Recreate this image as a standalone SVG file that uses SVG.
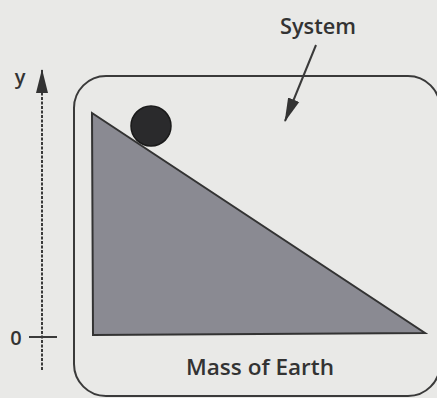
<svg xmlns="http://www.w3.org/2000/svg" width="437" height="398" viewBox="0 0 437 398">
<style>
.t{font-family:"Open Sans","Liberation Sans",sans-serif;fill:#333;font-weight:600;}
.ln{stroke:#3a3a3a;fill:none;}
</style>
<defs>
<marker id="ah2" markerWidth="24" markerHeight="14" refX="23" refY="7" orient="auto" markerUnits="userSpaceOnUse">
<path d="M0,1 L24,7 L0,13 Z" fill="#333"/>
</marker>
</defs>
<rect width="437" height="398" fill="#e9e9e7"/>
<g id="axis">
<line x1="42" y1="370" x2="42" y2="70" class="ln" stroke-width="2" stroke-dasharray="3,1.5" marker-end="url(#ah2)"/>
<line x1="29" y1="337" x2="57" y2="337" class="ln" stroke-width="2"/>
<text class="t" x="20" y="84" font-size="20" text-anchor="middle">y</text>
<text class="t" x="16" y="345" font-size="20" text-anchor="middle">0</text>
</g>
<g id="system">
<rect x="74" y="76" width="366" height="320" rx="32" class="ln" stroke-width="2"/>
</g>
<g id="incline">
<polygon points="92,113 425,333 93,335" fill="#8a8a92" stroke="#333" stroke-width="2"/>
</g>
<g id="ball">
<circle cx="151" cy="126" r="20" fill="#2a2a2c" stroke="#1a1a1a" stroke-width="1.5"/>
</g>
<g id="connectors">
<line x1="316" y1="45" x2="285" y2="121" class="ln" stroke-width="2" marker-end="url(#ah2)"/>
</g>
<g id="labels">
<text class="t" x="318" y="34" font-size="21" text-anchor="middle" textLength="76" lengthAdjust="spacingAndGlyphs">System</text>
<text class="t" x="260" y="375" font-size="21" text-anchor="middle" textLength="148" lengthAdjust="spacingAndGlyphs">Mass of Earth</text>
</g>
</svg>
